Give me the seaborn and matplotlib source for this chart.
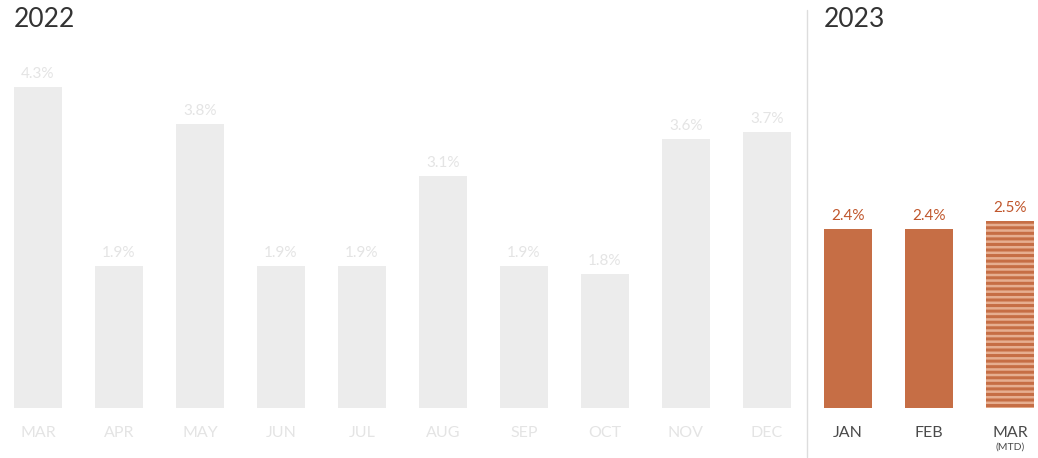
import pandas as pd
import matplotlib.pyplot as plt
import seaborn as sns

# Monthly values (%)
months_2022 = ["MAR", "APR", "MAY", "JUN", "JUL", "AUG", "SEP", "OCT", "NOV", "DEC"]
values_2022 = [4.3, 1.9, 3.8, 1.9, 1.9, 3.1, 1.9, 1.8, 3.6, 3.7]
months_2023 = ["JAN", "FEB", "MAR"]
values_2023 = [2.4, 2.4, 2.5]

grey_bar = "#ececec"
grey_text = "#e4e4e4"
orange = "#c66e45"
orange_text = "#c0562c"

sns.set_theme(style="white")
plt.rcParams['font.family'] = ['Lato', 'DejaVu Sans']
plt.rcParams['hatch.linewidth'] = 1.8

keys = [f"{m} 2022" for m in months_2022] + [f"{m} 2023" for m in months_2023]
df = pd.DataFrame({
    "key": keys,
    "month": months_2022 + months_2023,
    "value": values_2022 + values_2023,
    "year": ["2022"] * len(months_2022) + ["2023"] * len(months_2023),
})
palette = {k: (grey_bar if y == "2022" else orange) for k, y in zip(df["key"], df["year"])}

fig = plt.figure(figsize=(10.38, 4.58), dpi=100)
ax = fig.add_axes([0, 0.109, 1, 0.891])
sns.barplot(data=df, x="key", y="value", hue="key", palette=palette, order=keys,
            width=0.593, legend=False, saturation=1, linewidth=0, ax=ax)

# hatch the month-to-date bar
mtd = ax.patches[len(keys) - 1]
mtd.set_hatch("---")
mtd.set_edgecolor("#e6ae90")
mtd.set_linewidth(0)

ax.set_xlim(-0.469, 12.346)
ax.set_ylim(0, 5.46)
ax.set_xlabel("")
ax.set_ylabel("")
ax.set_yticks([])
sns.despine(ax=ax, left=True, bottom=True)

ax.set_xticks(range(len(keys)))
ax.set_xticklabels(df["month"], fontsize=11.5)
ax.tick_params(axis="x", length=0, pad=13)
for lbl, y in zip(ax.get_xticklabels(), df["year"]):
    lbl.set_color(grey_text if y == "2022" else "#4a4a4a")

# value labels
for i, (v, y) in enumerate(zip(df["value"], df["year"])):
    ax.text(i, v + 0.08, f"{v}%", ha="center", va="bottom", fontsize=11,
            color=grey_text if y == "2022" else orange_text)

ax.text(12, -0.46, "(MTD)", ha="center", va="top", fontsize=7.5, color="#4a4a4a")

# divider between years
ax.plot([9.5, 9.5], [-0.65, 5.33], color="#dddddd", linewidth=1, clip_on=False)

ax.text(-0.296, 5.2, "2022", ha="left", va="center", fontsize=19, color="#333333")
ax.text(9.7, 5.2, "2023", ha="left", va="center", fontsize=19, color="#333333")

fig.savefig("out.png", dpi=100)
